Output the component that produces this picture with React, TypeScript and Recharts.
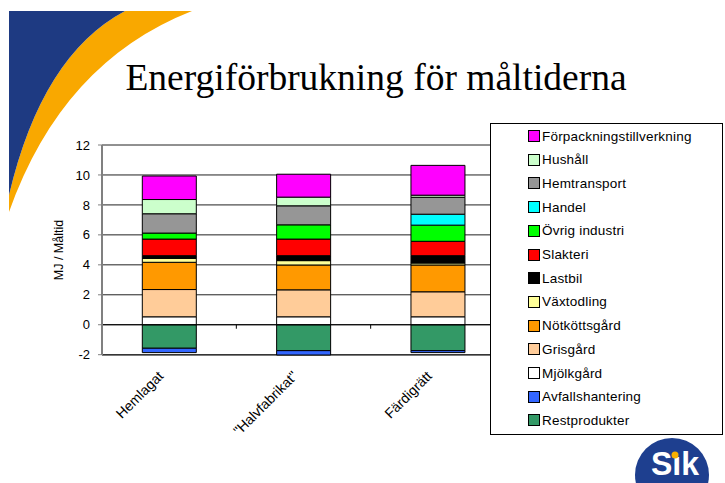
import { BarChart, Bar, XAxis, YAxis, CartesianGrid, ReferenceLine } from 'recharts';

const categories = ['Hemlagat', '"Halvfabrikat"', 'Färdigrätt'];

// MJ per måltid
const restprodukter = [-1.57, -1.73, -1.73];
const avfallshantering = [-0.29, -0.29, -0.13];
const mjolkgard = [0.53, 0.53, 0.53];
const grisgard = [1.82, 1.8, 1.67];
const notkottsgard = [1.82, 1.66, 1.79];
const vaxtodling = [0.26, 0.29, 0.13];
const lastbil = [0.18, 0.33, 0.49];
const slakteri = [1.11, 1.11, 0.96];
const ovrigIndustri = [0.4, 0.95, 1.08];
const handel = [0, 0, 0.73];
const hemtransport = [1.29, 1.27, 1.13];
const hushall = [0.95, 0.58, 0.14];
const forpackning = [1.57, 1.53, 1.99];

const yTicks = [-2, 0, 2, 4, 6, 8, 10, 12];

// stacking order, bottom to top
const series = [
  { key: 'Restprodukter', values: restprodukter, color: '#339966' },
  { key: 'Avfallshantering', values: avfallshantering, color: '#3366FF' },
  { key: 'Mjölkgård', values: mjolkgard, color: '#FFFFFF' },
  { key: 'Grisgård', values: grisgard, color: '#FFCC99' },
  { key: 'Nötköttsgård', values: notkottsgard, color: '#FF9900' },
  { key: 'Växtodling', values: vaxtodling, color: '#FFFF99' },
  { key: 'Lastbil', values: lastbil, color: '#000000' },
  { key: 'Slakteri', values: slakteri, color: '#FF0000' },
  { key: 'Övrig industri', values: ovrigIndustri, color: '#00FF00' },
  { key: 'Handel', values: handel, color: '#00FFFF' },
  { key: 'Hemtransport', values: hemtransport, color: '#969696' },
  { key: 'Hushåll', values: hushall, color: '#CCFFCC' },
  { key: 'Förpackningstillverkning', values: forpackning, color: '#FF00FF' },
];

const data = categories.map((name, i) => {
  const row: Record<string, string | number> = { name };
  series.forEach((s) => {
    row[s.key] = s.values[i];
  });
  return row;
});

const FONT = '"Liberation Sans", Arial, sans-serif';

const CategoryTick = (props: any) => {
  const { x, y, payload } = props;
  return (
    <g transform={`translate(${x - 5},${y + 14})`}>
      <text
        x={0}
        y={0}
        textAnchor="end"
        transform="rotate(-45)"
        fontSize={14}
        fontFamily={FONT}
        fill="#000"
      >
        {payload.value}
      </text>
    </g>
  );
};

// zero line with the small category-boundary marks
const ZeroLine = (props: any) => {
  const { x1, y1, x2 } = props;
  const n = categories.length;
  const step = (x2 - x1) / n;
  const marks = [];
  for (let i = 1; i < n; i++) {
    const mx = x1 + step * i;
    marks.push(<line key={i} x1={mx} x2={mx} y1={y1} y2={y1 + 4} stroke="#000" strokeWidth={1} />);
  }
  return (
    <g>
      <line x1={x1} x2={x2} y1={y1} y2={y1} stroke="#000" strokeWidth={1} />
      {marks}
    </g>
  );
};

export default function App() {
  return (
    <div style={{ position: 'absolute', left: 0, top: 0, width: 725, height: 483, background: '#fff', overflow: 'hidden' }}>
      <svg width={725} height={483} style={{ position: 'absolute', left: 0, top: 0 }}>
        <path d="M125,11 L192,11 Q62,62 9,212 L9,195 Q42,55 125,11 Z" fill="#F9A800" />
        <path d="M9,11 L125,11 Q42,55 9,195 Z" fill="#1E3A82" />
        <text
          x={376}
          y={90}
          textAnchor="middle"
          fontSize={37.5}
          fontFamily='"Liberation Serif", "Times New Roman", serif'
          fill="#000"
        >
          Energiförbrukning för måltiderna
        </text>
      </svg>

      <div style={{ position: 'absolute', left: 0, top: 0 }}>
        <BarChart
          width={725}
          height={483}
          data={data}
          stackOffset="sign"
          barCategoryGap="30%"
          margin={{ top: 145, right: 220, bottom: 68, left: 42 }}
        >
          <CartesianGrid vertical={false} stroke="#222" strokeWidth={1} />
          <XAxis
            dataKey="name"
            height={60}
            axisLine={false}
            tickLine={false}
            interval={0}
            tick={<CategoryTick />}
          />
          <YAxis
            width={60}
            domain={[-2, 12]}
            ticks={yTicks}
            interval={0}
            axisLine={{ stroke: '#808080', strokeWidth: 2 }}
            tickLine={{ stroke: '#808080' }}
            tickSize={4}
            tickMargin={8}
            tick={{ fontSize: 13, fontFamily: FONT, fill: '#000' }}
            label={{
              value: 'MJ / Måltid',
              angle: -90,
              position: 'center',
              dx: -13,
              style: { fontSize: 12.5, fontFamily: FONT, fill: '#000' },
            }}
          />
          {series.map((s) => (
            <Bar
              key={s.key}
              dataKey={s.key}
              stackId="a"
              fill={s.color}
              stroke="#000"
              strokeWidth={1}
              isAnimationActive={false}
            />
          ))}
          <ReferenceLine y={0} shape={<ZeroLine />} />
        </BarChart>
      </div>

      <div
        style={{
          position: 'absolute',
          left: 490,
          top: 123,
          width: 231,
          height: 310,
          border: '1px solid #000',
          background: '#fff',
          fontFamily: FONT,
          fontSize: 13.5,
          letterSpacing: 0.2,
          color: '#000',
        }}
      >
        {[...series].reverse().map((s, i) => (
          <div
            key={s.key}
            style={{
              position: 'absolute',
              left: 37,
              top: 5 + i * 23.7,
              height: 14,
              display: 'flex',
              alignItems: 'center',
              whiteSpace: 'nowrap',
            }}
          >
            <span
              style={{
                display: 'inline-block',
                width: 10,
                height: 10,
                border: '1px solid #000',
                background: s.color,
                marginRight: 2,
              }}
            />
            <span>{s.key}</span>
          </div>
        ))}
      </div>

      <svg width={725} height={483} style={{ position: 'absolute', left: 0, top: 0, pointerEvents: 'none' }}>
        <circle cx={672} cy={475} r={37} fill="#1E3F8F" />
        <text
          x={675}
          y={475}
          textAnchor="middle"
          fontSize={34}
          fontWeight="bold"
          fontFamily={FONT}
          fill="#fff"
          textLength={48}
          lengthAdjust="spacingAndGlyphs"
        >
          Sık
        </text>
        <circle cx={675} cy={455} r={3.5} fill="#F9B000" />
      </svg>
    </div>
  );
}
